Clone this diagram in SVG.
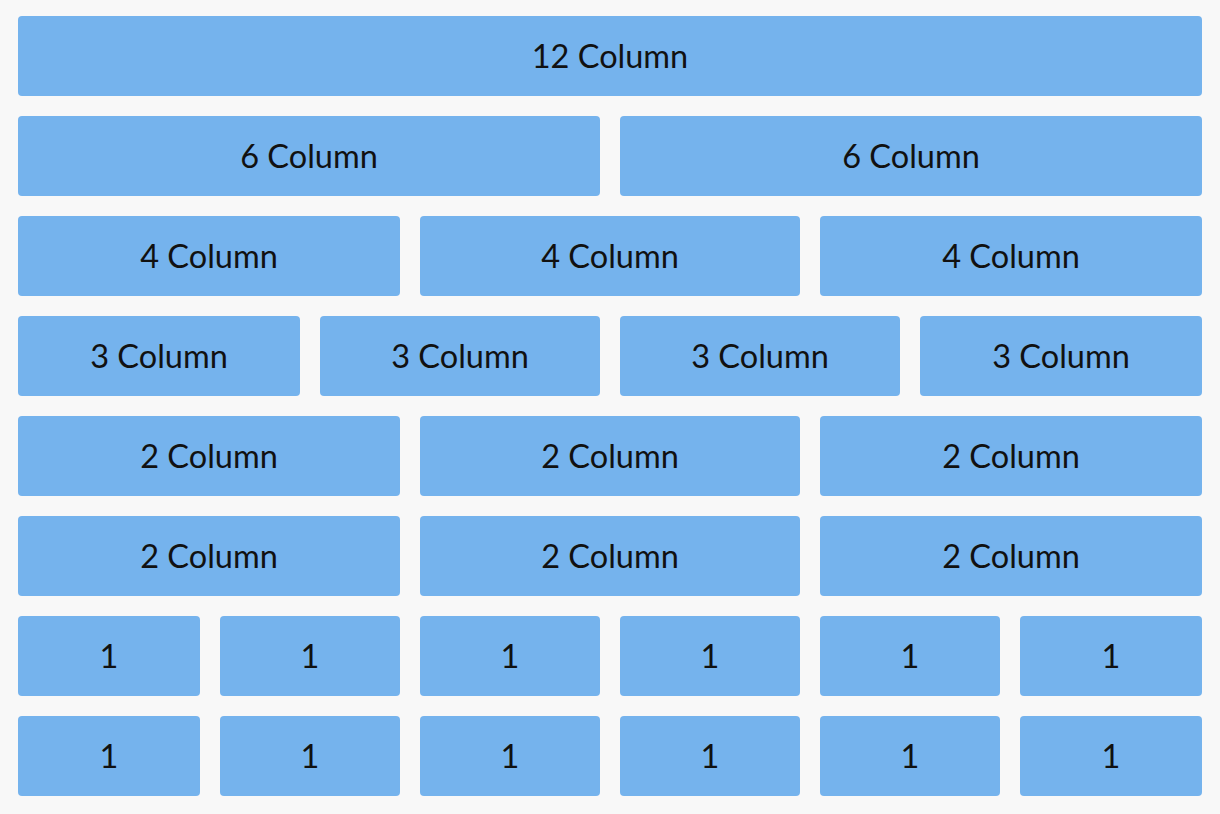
<svg xmlns="http://www.w3.org/2000/svg" width="1220" height="814" viewBox="0 0 1220 814">
<style>
.b{fill:#75b3ed}
.t{font-family:Lato,"Noto Sans",sans-serif;font-size:32.5px;fill:#111;text-anchor:middle}
</style>
<rect width="1220" height="814" fill="#f8f8f8"/>
<g id="row1">
<g id="r1c1"><rect class="b" x="18" y="16" width="1184" height="80" rx="4"/><text class="t" x="610" y="68">12 Column</text></g>
</g>
<g id="row2">
<g id="r2c1"><rect class="b" x="18" y="116" width="582" height="80" rx="4"/><text class="t" x="309" y="168">6 Column</text></g>
<g id="r2c2"><rect class="b" x="620" y="116" width="582" height="80" rx="4"/><text class="t" x="911" y="168">6 Column</text></g>
</g>
<g id="row3">
<g id="r3c1"><rect class="b" x="18" y="216" width="382" height="80" rx="4"/><text class="t" x="209" y="268">4 Column</text></g>
<g id="r3c2"><rect class="b" x="420" y="216" width="380" height="80" rx="4"/><text class="t" x="610" y="268">4 Column</text></g>
<g id="r3c3"><rect class="b" x="820" y="216" width="382" height="80" rx="4"/><text class="t" x="1011" y="268">4 Column</text></g>
</g>
<g id="row4">
<g id="r4c1"><rect class="b" x="18" y="316" width="282" height="80" rx="4"/><text class="t" x="159" y="368">3 Column</text></g>
<g id="r4c2"><rect class="b" x="320" y="316" width="280" height="80" rx="4"/><text class="t" x="460" y="368">3 Column</text></g>
<g id="r4c3"><rect class="b" x="620" y="316" width="280" height="80" rx="4"/><text class="t" x="760" y="368">3 Column</text></g>
<g id="r4c4"><rect class="b" x="920" y="316" width="282" height="80" rx="4"/><text class="t" x="1061" y="368">3 Column</text></g>
</g>
<g id="row5">
<g id="r5c1"><rect class="b" x="18" y="416" width="382" height="80" rx="4"/><text class="t" x="209" y="468">2 Column</text></g>
<g id="r5c2"><rect class="b" x="420" y="416" width="380" height="80" rx="4"/><text class="t" x="610" y="468">2 Column</text></g>
<g id="r5c3"><rect class="b" x="820" y="416" width="382" height="80" rx="4"/><text class="t" x="1011" y="468">2 Column</text></g>
</g>
<g id="row6">
<g id="r6c1"><rect class="b" x="18" y="516" width="382" height="80" rx="4"/><text class="t" x="209" y="568">2 Column</text></g>
<g id="r6c2"><rect class="b" x="420" y="516" width="380" height="80" rx="4"/><text class="t" x="610" y="568">2 Column</text></g>
<g id="r6c3"><rect class="b" x="820" y="516" width="382" height="80" rx="4"/><text class="t" x="1011" y="568">2 Column</text></g>
</g>
<g id="row7">
<g id="r7c1"><rect class="b" x="18" y="616" width="182" height="80" rx="4"/><text class="t" x="109" y="668">1</text></g>
<g id="r7c2"><rect class="b" x="220" y="616" width="180" height="80" rx="4"/><text class="t" x="310" y="668">1</text></g>
<g id="r7c3"><rect class="b" x="420" y="616" width="180" height="80" rx="4"/><text class="t" x="510" y="668">1</text></g>
<g id="r7c4"><rect class="b" x="620" y="616" width="180" height="80" rx="4"/><text class="t" x="710" y="668">1</text></g>
<g id="r7c5"><rect class="b" x="820" y="616" width="180" height="80" rx="4"/><text class="t" x="910" y="668">1</text></g>
<g id="r7c6"><rect class="b" x="1020" y="616" width="182" height="80" rx="4"/><text class="t" x="1111" y="668">1</text></g>
</g>
<g id="row8">
<g id="r8c1"><rect class="b" x="18" y="716" width="182" height="80" rx="4"/><text class="t" x="109" y="768">1</text></g>
<g id="r8c2"><rect class="b" x="220" y="716" width="180" height="80" rx="4"/><text class="t" x="310" y="768">1</text></g>
<g id="r8c3"><rect class="b" x="420" y="716" width="180" height="80" rx="4"/><text class="t" x="510" y="768">1</text></g>
<g id="r8c4"><rect class="b" x="620" y="716" width="180" height="80" rx="4"/><text class="t" x="710" y="768">1</text></g>
<g id="r8c5"><rect class="b" x="820" y="716" width="180" height="80" rx="4"/><text class="t" x="910" y="768">1</text></g>
<g id="r8c6"><rect class="b" x="1020" y="716" width="182" height="80" rx="4"/><text class="t" x="1111" y="768">1</text></g>
</g>
<g id="connectors"/>
</svg>
